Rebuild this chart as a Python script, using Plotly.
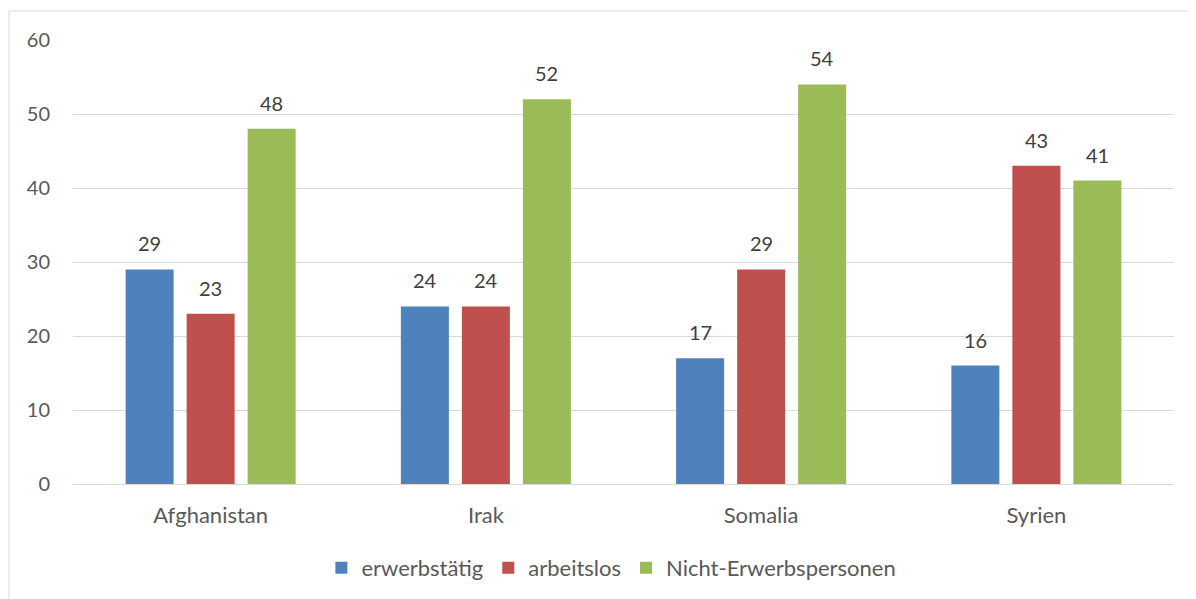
import plotly.graph_objects as go

categories = ["Afghanistan", "Irak", "Somalia", "Syrien"]
series_names = ["erwerbstätig", "arbeitslos", "Nicht-Erwerbspersonen"]
erwerbstaetig = [29, 24, 17, 16]
arbeitslos = [23, 24, 29, 43]
nicht_erwerbspersonen = [48, 52, 54, 41]
y_ticks = [0, 10, 20, 30, 40, 50, 60]

colors = ["#4F81BD", "#C0504D", "#9BBB59"]
values = [erwerbstaetig, arbeitslos, nicht_erwerbspersonen]

font_family = "Lato, Carlito, Calibri, sans-serif"
FS_NUM = 20
FS_TXT = 22

# plot-area geometry (px)
L, R, T, B = 65, 30, 32, 123
W, H = 1196, 599
plot_w = W - L - R
bargap, bargroupgap = 0.335, 0.213
cat_w = plot_w / len(categories)
slot_w = cat_w * (1 - bargap) / len(series_names)

fig = go.Figure()
for i, (name, vals, col) in enumerate(zip(series_names, values, colors)):
    fig.add_trace(go.Bar(
        x=categories, y=vals, name=name,
        marker=dict(color=col, line=dict(width=0)),
        cliponaxis=False,
    ))
    shift = (i - (len(series_names) - 1) / 2) * slot_w
    for c, v in zip(categories, vals):
        fig.add_annotation(x=c, y=v, text=str(v), showarrow=False,
                           xshift=shift, yshift=26, yanchor="middle",
                           font=dict(size=FS_NUM, color="#404040", family=font_family))

fig.update_layout(
    width=W, height=H,
    margin=dict(l=L, r=R, t=T, b=B),
    paper_bgcolor="white", plot_bgcolor="white",
    barmode="group", bargap=bargap, bargroupgap=bargroupgap,
    font=dict(family=font_family, size=FS_TXT, color="#595959"),
    showlegend=True,
    legend=dict(orientation="h", x=0.489, xanchor="center", y=-0.189, yanchor="middle",
                font=dict(size=FS_TXT, color="#595959"), traceorder="normal",
                itemwidth=30),
    xaxis=dict(showgrid=False, showline=True, linecolor="#d9d9d9", linewidth=1,
               ticks="", ticklabelstandoff=12, tickfont=dict(size=FS_TXT, color="#595959")),
    yaxis=dict(range=[0, 60], tickvals=y_ticks, showgrid=True, gridcolor="#d9d9d9",
               gridwidth=1, zeroline=False, showline=False, ticks="",
               ticklabelstandoff=22, tickfont=dict(size=FS_NUM, color="#595959")),
    shapes=[dict(type="rect", xref="paper", yref="paper",
                 x0=-0.0581, x1=1.05, y0=-0.30, y1=1.0653,
                 line=dict(color="#d9d9d9", width=1), fillcolor="rgba(0,0,0,0)", layer="below")],
)

fig.write_html("out.html")
